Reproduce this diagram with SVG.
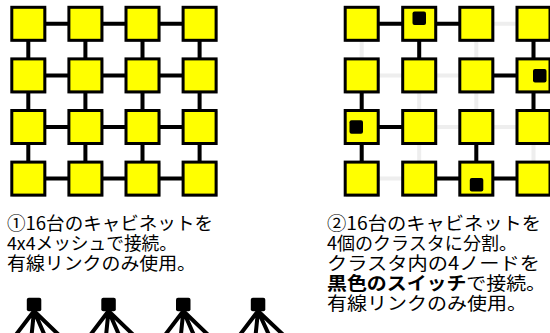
<svg xmlns="http://www.w3.org/2000/svg" width="550" height="333" viewBox="0 0 550 333">
<style>
.n{fill:#ffff00;stroke:#000;stroke-width:3}
.sh{fill:#000;opacity:0.25}
.c{stroke:#000;stroke-width:4;fill:none}
.g{stroke:#eeeeee;stroke-width:4;fill:none}
.sw{fill:#000}
.t{font-family:"Noto Sans CJK JP","Noto Sans",sans-serif;font-size:18px;fill:#000}
.b{font-weight:bold}
</style>
<defs>
<g id="sq"><rect class="sh" x="-16" y="-16" width="34" height="34"/><rect class="n" x="-16.5" y="-16.5" width="33" height="33"/></g>
</defs>
<rect width="550" height="333" fill="#fff"/>
<g id="connectors">
<g id="mesh-left">
<path class="c" d="M28.3 23.8H199.6M28.3 75.4H199.6M28.3 127H199.6M28.3 178.6H199.6M28.3 23.8V178.6M85.4 23.8V178.6M142.5 23.8V178.6M199.6 23.8V178.6"/>
</g>
<g id="mesh-right-grey">
<path class="g" d="M361.7 23.8H560M361.7 75.4H560M361.7 127H560M361.7 178.6H560M361.7 23.8V178.6M419.2 23.8V178.6M476.3 23.8V178.6M533.5 23.8V178.6"/>
</g>
<g id="clusters-right">
<path class="c" d="M361.7 23.8H476.3M419.2 23.8V75.4"/>
<path class="c" d="M533.5 23.8V127M476.3 75.4H533.5"/>
<path class="c" d="M361.7 75.4V178.6M361.7 127H419.2"/>
<path class="c" d="M419.2 178.6H560M476.3 127V178.6"/>
</g>
<g id="trees">
<path class="c" stroke-width="3" d="M34 311L15 336M34 311L31.5 336M34 311L45 336M34 311L60 336"/>
<path class="c" stroke-width="3" d="M108.5 311L89.5 336M108.5 311L106 336M108.5 311L119.5 336M108.5 311L134.5 336"/>
<path class="c" stroke-width="3" d="M183.3 311L164.3 336M183.3 311L180.8 336M183.3 311L194.3 336M183.3 311L209.3 336"/>
<path class="c" stroke-width="3" d="M258 311L239 336M258 311L255.5 336M258 311L269.5 336M258 311L284.5 336"/>
</g>
</g>
<g id="left-grid">
<use href="#sq" x="28.3" y="23.8"/><use href="#sq" x="85.4" y="23.8"/><use href="#sq" x="142.5" y="23.8"/><use href="#sq" x="199.6" y="23.8"/>
<use href="#sq" x="28.3" y="75.4"/><use href="#sq" x="85.4" y="75.4"/><use href="#sq" x="142.5" y="75.4"/><use href="#sq" x="199.6" y="75.4"/>
<use href="#sq" x="28.3" y="127"/><use href="#sq" x="85.4" y="127"/><use href="#sq" x="142.5" y="127"/><use href="#sq" x="199.6" y="127"/>
<use href="#sq" x="28.3" y="178.6"/><use href="#sq" x="85.4" y="178.6"/><use href="#sq" x="142.5" y="178.6"/><use href="#sq" x="199.6" y="178.6"/>
</g>
<g id="right-grid">
<use href="#sq" x="361.7" y="23.8"/><use href="#sq" x="419.2" y="23.8"/><use href="#sq" x="476.3" y="23.8"/><use href="#sq" x="533.5" y="23.8"/>
<use href="#sq" x="361.7" y="75.4"/><use href="#sq" x="419.2" y="75.4"/><use href="#sq" x="476.3" y="75.4"/><use href="#sq" x="533.5" y="75.4"/>
<use href="#sq" x="361.7" y="127"/><use href="#sq" x="419.2" y="127"/><use href="#sq" x="476.3" y="127"/><use href="#sq" x="533.5" y="127"/>
<use href="#sq" x="361.7" y="178.6"/><use href="#sq" x="419.2" y="178.6"/><use href="#sq" x="476.3" y="178.6"/><use href="#sq" x="533.5" y="178.6"/>
</g>
<g id="switches">
<rect class="sw" x="412.5" y="11.5" width="13.5" height="13.5" rx="2"/>
<rect class="sw" x="533" y="69" width="13.5" height="13.5" rx="2"/>
<rect class="sw" x="349.5" y="120.3" width="13.5" height="13.5" rx="2"/>
<rect class="sw" x="469.8" y="178" width="13.5" height="13.5" rx="2"/>
</g>
<g id="tree-switches">
<rect class="sw" x="26.8" y="297.7" width="14.5" height="13.5" rx="2"/>
<rect class="sw" x="101.3" y="297.7" width="14.5" height="13.5" rx="2"/>
<rect class="sw" x="176" y="297.7" width="14.5" height="13.5" rx="2"/>
<rect class="sw" x="250.8" y="297.7" width="14.5" height="13.5" rx="2"/>
</g>
<g id="text-left">
<text class="t" x="7" y="229.5" textLength="206" lengthAdjust="spacingAndGlyphs">①16台のキャビネットを</text>
<text class="t" x="7" y="249.5" textLength="170" lengthAdjust="spacingAndGlyphs">4x4メッシュで接続。</text>
<text class="t" x="7" y="269.5" textLength="189" lengthAdjust="spacingAndGlyphs">有線リンクのみ使用。</text>
</g>
<g id="text-right">
<text class="t" x="327" y="229.5" textLength="214" lengthAdjust="spacingAndGlyphs">②16台のキャビネットを</text>
<text class="t" x="327" y="249.5" textLength="190" lengthAdjust="spacingAndGlyphs">4個のクラスタに分割。</text>
<text class="t" x="327" y="269.5" textLength="213" lengthAdjust="spacingAndGlyphs">クラスタ内の4ノードを</text>
<text class="t" x="327" y="289.5" textLength="219" lengthAdjust="spacingAndGlyphs"><tspan class="b">黒色のスイッチ</tspan>で接続。</text>
<text class="t" x="327" y="309.5" textLength="200" lengthAdjust="spacingAndGlyphs">有線リンクのみ使用。</text>
</g>
</svg>
